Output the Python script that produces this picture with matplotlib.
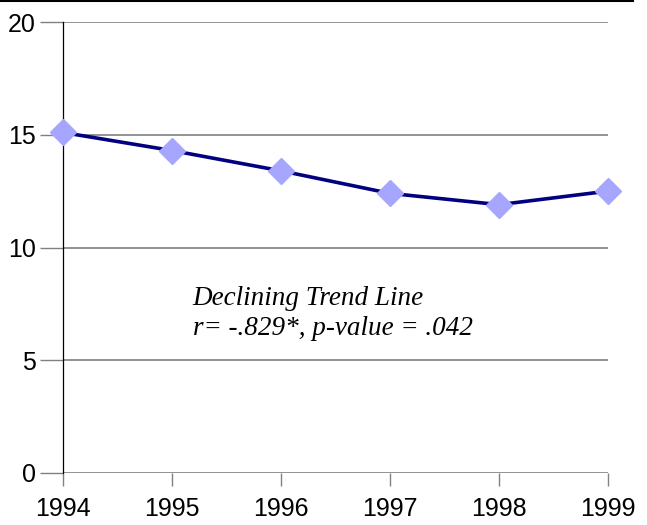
import matplotlib
matplotlib.use('Agg')
import matplotlib.pyplot as plt
from matplotlib.lines import Line2D

years = [1994, 1995, 1996, 1997, 1998, 1999]
values = [15.1, 14.3, 13.4, 12.4, 11.9, 12.5]
yticks = [0, 5, 10, 15, 20]

fig = plt.figure(figsize=(6.47, 5.25), dpi=100)
ax = fig.add_axes([63/647, 52/525, 545/647, 451/525])

for y in yticks:
    ax.axhline(y, color='#808080', lw=1.2, zorder=1)

ax.plot(years, values, color='#000080', lw=2.6, marker='D', markersize=13,
        markerfacecolor='#a6a6ff', markeredgecolor='#a6a6ff', zorder=3, clip_on=False)

ax.set_xlim(1994, 1999)
ax.set_ylim(0, 20)
ax.set_xticks(years)
ax.set_yticks(yticks)
ax.set_xticklabels([str(y) for y in years], fontsize=18, family='Liberation Sans')
ax.set_yticklabels([str(y) for y in yticks], fontsize=18, family='Liberation Sans')
ax.tick_params(axis='y', length=16.5, width=1, color='#808080', pad=3)
ax.tick_params(axis='x', length=9, width=1, color='#808080', pad=8)

for s in ['top', 'right', 'bottom']:
    ax.spines[s].set_visible(False)
ax.spines['left'].set_color('black')
ax.spines['left'].set_linewidth(0.9)

ax.text(1995.19, 8.3, 'Declining Trend Line\nr= -.829*, p-value = .042',
        fontsize=19.5, family='Liberation Serif', style='italic',
        va='top', ha='left', linespacing=1.25)

fig.add_artist(Line2D([0, 633/647], [1 - 1/525, 1 - 1/525], color='black', lw=1.5,
                      transform=fig.transFigure))

fig.savefig('out.png', dpi=100)
